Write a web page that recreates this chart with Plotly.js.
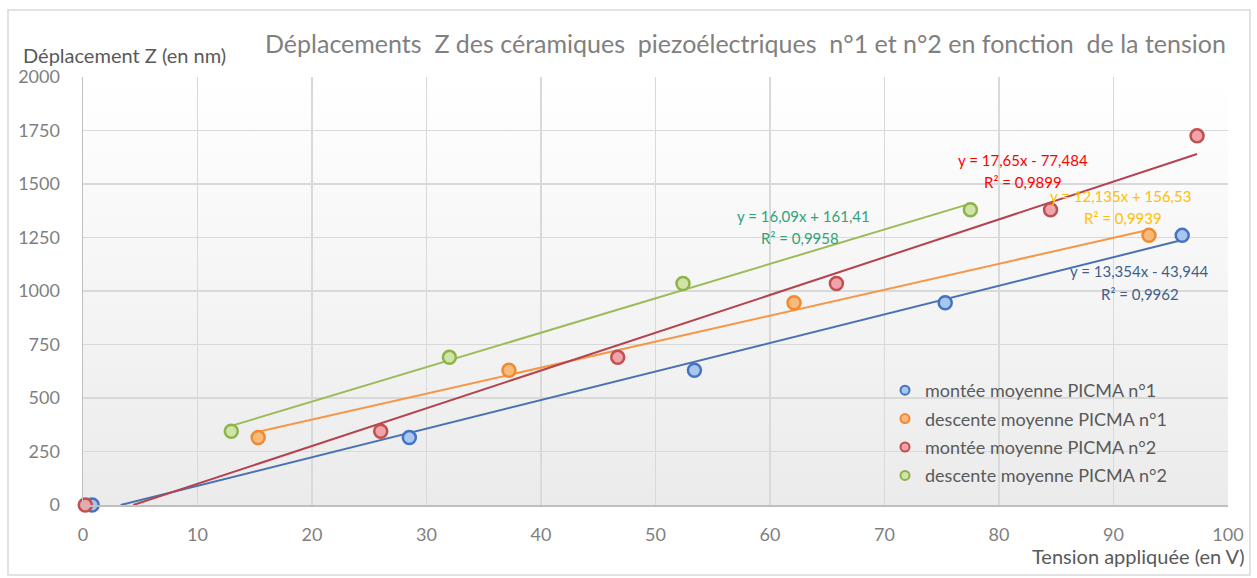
<!DOCTYPE html>
<html>
<head>
<meta charset="utf-8">
<script src="https://cdn.plot.ly/plotly-3.0.1.min.js"></script>
<style>html,body{margin:0;padding:0;background:#fff;}#chart{width:1257px;height:578px;}</style>
</head>
<body>
<div id="chart"></div>
<script>
// ---- data ----
const seriesNames = ["montée moyenne PICMA n°1", "descente moyenne PICMA n°1", "montée moyenne PICMA n°2", "descente moyenne PICMA n°2"];
const xMonteeN1 = [0.8, 28.5, 53.4, 75.3, 96.0];
const yMonteeN1 = [0, 315, 630, 945, 1260];
const xDescenteN1 = [15.3, 37.2, 62.1, 93.1];
const yDescenteN1 = [315, 630, 945, 1260];
const xMonteeN2 = [0.2, 26.0, 46.7, 65.8, 84.5, 97.3];
const yMonteeN2 = [0, 345, 690, 1035, 1380, 1725];
const xDescenteN2 = [12.95, 32.0, 52.4, 77.5];
const yDescenteN2 = [345, 690, 1035, 1380];
// trendline coefficients (as labelled)
const slopes = [13.354, 12.135, 17.65, 16.09];
const intercepts = [-43.944, 156.53, -77.484, 161.41];
const eqLabels = ["y = 13,354x - 43,944", "y = 12,135x + 156,53", "y = 17,65x - 77,484", "y = 16,09x + 161,41"];
const r2Labels = ["R² = 0,9962", "R² = 0,9939", "R² = 0,9899", "R² = 0,9958"];
const xTicks = [0, 10, 20, 30, 40, 50, 60, 70, 80, 90, 100];
const yTicks = [0, 250, 500, 750, 1000, 1250, 1500, 1750, 2000];

// ---- styles ----
const lineCols = ["#4a72b0", "#f79646", "#b4424f", "#9bbb59"];
const fillCols = ["#a9c6ec", "#f9bb7c", "#f2a2aa", "#cfe4a6"];
const edgeCols = ["#4472c4", "#f08a30", "#c0504d", "#8db34a"];
const labelCols = ["#3f5f8a", "#ffc000", "#ff0000", "#2fa37a"];
const eqPos = [[92.3, 1092], [90.6, 1444], [82.1, 1612], [62.9, 1350]];
const r2Pos = [[92.3, 985], [90.8, 1341], [82.1, 1509], [62.6, 1248]];

const xs = [xMonteeN1, xDescenteN1, xMonteeN2, xDescenteN2];
const ys = [yMonteeN1, yDescenteN1, yMonteeN2, yDescenteN2];

const traces = [];
// trendlines (drawn from the first to the last point, kept inside y >= 0)
for (let i = 0; i < 4; i++) {
  let x0 = Math.min(...xs[i]);
  const x1 = Math.max(...xs[i]);
  const xZero = -intercepts[i] / slopes[i];
  if (slopes[i] * x0 + intercepts[i] < 0) x0 = xZero;
  const tx = [x0, x1];
  traces.push({
    x: tx, y: tx.map(v => slopes[i] * v + intercepts[i]),
    mode: "lines", type: "scatter", showlegend: false, hoverinfo: "skip",
    line: {color: lineCols[i], width: 2}
  });
}
// points
for (let i = 0; i < 4; i++) {
  traces.push({
    x: xs[i], y: ys[i], mode: "markers", type: "scatter", name: seriesNames[i],
    showlegend: false, cliponaxis: false, hoverinfo: "skip",
    marker: {size: 13, color: fillCols[i], line: {color: edgeCols[i], width: 2.5}}
  });
}
// legend entries
for (let i = 0; i < 4; i++) {
  traces.push({
    x: [null], y: [null], mode: "markers", type: "scatter", name: seriesNames[i],
    legendgroup: "g" + i, showlegend: true, hoverinfo: "skip",
    marker: {size: 9, color: fillCols[i], line: {color: edgeCols[i], width: 2}}
  });
}

const annotations = [];
for (let i = 0; i < 4; i++) {
  annotations.push({x: eqPos[i][0], y: eqPos[i][1], xref: "x", yref: "y", text: eqLabels[i], showarrow: false,
    font: {family: "Lato, sans-serif", size: 15, color: labelCols[i]}});
  annotations.push({x: r2Pos[i][0], y: r2Pos[i][1], xref: "x", yref: "y", text: r2Labels[i], showarrow: false,
    font: {family: "Lato, sans-serif", size: 15, color: labelCols[i]}});
}
annotations.push({xref: "paper", yref: "paper", x: (21 - 83) / 1145, y: (505 - 55) / 428, xanchor: "left", yanchor: "middle",
  text: "Déplacement Z (en nm)", showarrow: false, font: {family: "Lato, sans-serif", size: 20, color: "#595959"}});
annotations.push({xref: "paper", yref: "paper", x: (1247 - 83) / 1145, y: (505 - 556) / 428, xanchor: "right", yanchor: "middle",
  text: "Tension appliquée (en V)", showarrow: false, font: {family: "Lato, sans-serif", size: 20, color: "#595959"}});

const gradSvg = '<svg xmlns="http://www.w3.org/2000/svg" width="10" height="100" preserveAspectRatio="none"><defs><linearGradient id="g" x1="0" y1="0" x2="0" y2="1"><stop offset="0" stop-color="#ffffff"/><stop offset="1" stop-color="#ebebeb"/></linearGradient></defs><rect width="10" height="100" fill="url(#g)"/></svg>';

const layout = {
  width: 1257, height: 578,
  margin: {l: 83, r: 29, t: 77, b: 73, pad: 0},
  paper_bgcolor: "#ffffff", plot_bgcolor: "rgba(0,0,0,0)",
  font: {family: "Lato, sans-serif", color: "#7f7f7f"},
  title: {
    text: "Déplacements\u00a0 Z des céramiques\u00a0 piezoélectriques\u00a0 n°1 et n°2 en fonction\u00a0 de la tension",
    x: 265 / 1257, xanchor: "left", xref: "container", y: 1 - 44 / 578, yanchor: "middle", yref: "container",
    font: {family: "Lato, sans-serif", size: 25, color: "#808080"}
  },
  xaxis: {
    range: [0, 100], tickvals: xTicks, ticktext: xTicks.map(String), showgrid: true, gridcolor: "#d9d9d9", gridwidth: 1.5,
    zeroline: false, showline: true, linecolor: "#bfbfbf", linewidth: 1.5, ticks: "", ticklabelstandoff: 13,
    tickfont: {family: "Lato, sans-serif", size: 18, color: "#7f7f7f"}, fixedrange: true
  },
  yaxis: {
    range: [0, 2000], tickvals: yTicks, ticktext: yTicks.map(String), showgrid: true, gridcolor: "#d9d9d9", gridwidth: 1.5,
    zeroline: false, showline: true, linecolor: "#bfbfbf", linewidth: 1.5, ticks: "", ticklabelstandoff: 18,
    tickfont: {family: "Lato, sans-serif", size: 18, color: "#7f7f7f"}, fixedrange: true
  },
  legend: {
    x: (885 - 83) / 1145, y: (505 - 372) / 428, xanchor: "left", yanchor: "top",
    bgcolor: "rgba(0,0,0,0)", tracegroupgap: 2,
    font: {family: "Lato, sans-serif", size: 18, color: "#595959"}
  },
  images: [{source: "data:image/svg+xml;charset=utf-8," + encodeURIComponent(gradSvg), xref: "paper", yref: "paper",
    x: 0, y: 1, sizex: 1, sizey: 1, sizing: "stretch", xanchor: "left", yanchor: "top", layer: "below"}],
  shapes: [{type: "rect", xref: "paper", yref: "paper", x0: (8 - 83) / 1145, x1: (1250 - 83) / 1145,
    y0: (505 - 575) / 428, y1: (505 - 10) / 428, line: {color: "#d9d9d9", width: 1.5}, fillcolor: "rgba(0,0,0,0)", layer: "below"}],
  annotations: annotations,
  hovermode: false
};

Plotly.newPlot("chart", traces, layout, {displayModeBar: false, staticPlot: true});
</script>
</body>
</html>
